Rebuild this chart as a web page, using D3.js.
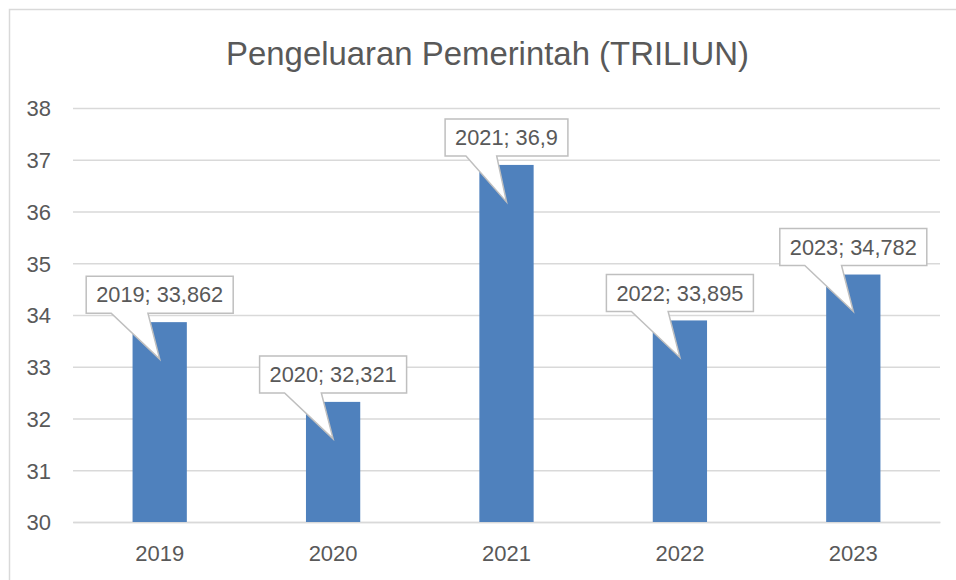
<!DOCTYPE html>
<html>
<head>
<meta charset="utf-8">
<script src="https://cdn.jsdelivr.net/npm/d3@7"></script>
<style>
  html, body { margin: 0; padding: 0; background: #fff; }
  svg { display: block; }
  text { font-family: "Liberation Sans", Arial, sans-serif; fill: #595959; }
</style>
</head>
<body>
<svg id="chart" width="956" height="580"></svg>
<script>
const title = "Pengeluaran Pemerintah (TRILIUN)";
const categories = ["2019", "2020", "2021", "2022", "2023"];
const values = [33.862, 32.321, 36.9, 33.895, 34.782];
const yTicks = [30, 31, 32, 33, 34, 35, 36, 37, 38];
const yDomain = [30, 38];

const W = 956, H = 580;
const plot = { left: 73, right: 940, top: 108, bottom: 522 };
const barColor = "#4f81bd";
const gridColor = "#d9d9d9";

const svg = d3.select("#chart");

// chart area border (right and bottom edges lie outside the view)
svg.append("rect")
  .attr("x", 9.5).attr("y", 9.5)
  .attr("width", 980).attr("height", 620)
  .attr("fill", "#fff")
  .attr("stroke", gridColor).attr("stroke-width", 1.5);

const x = d3.scaleBand()
  .domain(categories)
  .range([plot.left, plot.right])
  .paddingInner(0.687)
  .paddingOuter(0.687 / 2);

const y = d3.scaleLinear().domain(yDomain).range([plot.bottom, plot.top]);

// fit a text element's font size so its width matches a target
function fit(sel, base, target) {
  sel.style("font-size", base + "px");
  const w = sel.node().getComputedTextLength();
  const s = base * target / w;
  sel.style("font-size", s.toFixed(2) + "px");
  return s;
}

// title
const t = svg.append("text")
  .attr("x", 487.5).attr("y", 65)
  .attr("text-anchor", "middle")
  .text(title);
fit(t, 33, 523);

// y axis with gridlines
const yAxis = svg.append("g")
  .attr("transform", `translate(${plot.left},0)`)
  .call(d3.axisLeft(y).tickValues(yTicks).tickFormat(d3.format("d"))
    .tickSizeInner(-(plot.right - plot.left)).tickSizeOuter(0).tickPadding(22));
yAxis.select(".domain").remove();
yAxis.selectAll(".tick line").attr("stroke", gridColor).attr("stroke-width", 1.3);
yAxis.selectAll(".tick text")
  .attr("dy", "0.36em")
  .style("font-size", "22px")
  .style("fill", "#595959");

// x axis
const xAxis = svg.append("g")
  .attr("transform", `translate(0,${plot.bottom})`)
  .call(d3.axisBottom(x).tickSize(0).tickPadding(0));
xAxis.select(".domain").attr("stroke", gridColor).attr("stroke-width", 1.5);
xAxis.selectAll(".tick text")
  .attr("y", 39).attr("dy", 0)
  .style("font-size", "22px")
  .style("fill", "#595959");

// bars
svg.append("g").selectAll("rect")
  .data(categories.map((c, i) => ({ c, v: values[i] })))
  .join("rect")
  .attr("x", d => x(d.c))
  .attr("width", x.bandwidth())
  .attr("y", d => y(d.v))
  .attr("height", d => y(yDomain[0]) - y(d.v))
  .attr("fill", barColor);

// callout data labels
const fmt = v => String(v).replace(".", ",");
const probe = svg.append("text").text(categories[0] + "; " + fmt(values[0]));
const labelSize = fit(probe, 20, 127);
probe.remove();

const callouts = svg.append("g");
categories.forEach((c, i) => {
  const v = values[i];
  const cx = x(c) + x.bandwidth() / 2;
  const barTop = y(v);
  const g = callouts.append("g");
  const path = g.append("path");
  const txt = g.append("text")
    .attr("text-anchor", "middle")
    .style("font-size", labelSize + "px")
    .text(c + "; " + fmt(v));
  const w = txt.node().getComputedTextLength() + 20;
  const h = 37;
  const bx = cx - w / 2;
  const by2 = barTop - 9;
  const by1 = by2 - h;
  const tipY = barTop + 37;
  const p1 = bx + 0.17 * w, p2 = bx + 0.42 * w;
  path.attr("d",
      `M${bx},${by1} L${bx + w},${by1} L${bx + w},${by2} L${p2},${by2} ` +
      `L${cx},${tipY} L${p1},${by2} L${bx},${by2} Z`)
    .attr("fill", "#fff")
    .attr("stroke", "#bfbfbf")
    .attr("stroke-width", 1.5)
    .attr("stroke-linejoin", "miter");
  txt.attr("x", cx).attr("y", (by1 + by2) / 2 + labelSize * 0.36);
});
</script>
</body>
</html>
